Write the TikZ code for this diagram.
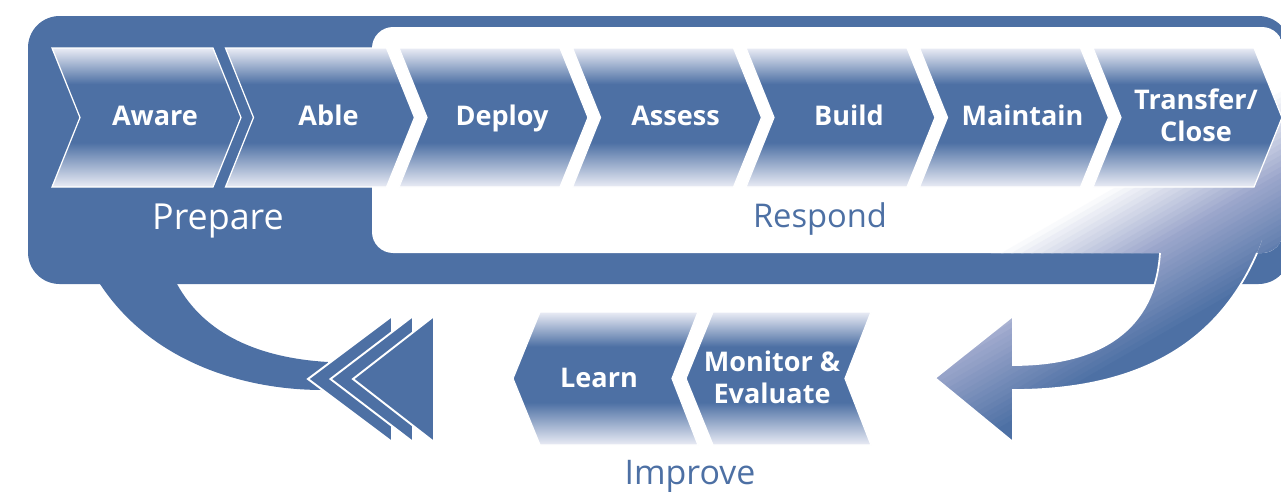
\documentclass[tikz,border=0pt]{standalone}
\usepackage{fontspec}
\setmainfont{Open Sans}
\usepackage{tikz}
\usetikzlibrary{calc}

\definecolor{mainblue}{RGB}{77,112,164}
\definecolor{chevlight}{RGB}{234,236,245}
\definecolor{lavmid}{RGB}{155,166,203}

\pgfdeclareverticalshading{chevshade}{100bp}{color(0bp)=(chevlight); color(25bp)=(chevlight); color(41bp)=(mainblue); color(62bp)=(mainblue); color(75bp)=(chevlight); color(100bp)=(chevlight)}

\tikzset{
    chevron/.style={shade, shading=chevshade, draw=white, line width=0.7pt},
    steptext/.style={text=white, font=\bfseries\fontsize{15.4}{18.2}\selectfont, align=center, inner sep=0pt},
    sectiontext/.style={inner sep=0pt, anchor=base},
    headpart/.style={fill=mainblue, draw=white, line width=1.1pt, line join=miter}
}

% forward step: name, left x, text
\newcommand{\stepfwd}[3]{%
    \path[chevron] (#2,48) -- ++(161,0) -- ++(28,69.5) -- ++(-28,69.5) -- ++(-161,0) -- ++(28,-69.5) -- cycle;
    \node[steptext] (#1) at ({#2+103},119.5) {\strut #3\strut};
}
% backward step: name, tip x, text
\newcommand{\stepback}[3]{%
    \path[chevron] (#2,378.5) -- ++(27,-66.5) -- ++(158,0) -- ++(-26,66.5) -- ++(26,66.5) -- ++(-158,0) -- cycle;
    \node[steptext] (#1) at ({#2+86},381) {\strut #3\strut};
}
% white to blue stripes for the respond panel
\newcommand{\respondshading}{%
    \fill[white] (300,0) rectangle (1300,500);
    \foreach \i in {0,...,31}{
        \pgfmathsetmacro{\sa}{715+5*\i}
        \pgfmathsetmacro{\sb}{\sa+6}
        \pgfmathtruncatemacro{\pa}{min(100,\i*100/15)}
        \pgfmathtruncatemacro{\pb}{max(0,(\i-15)*100/16)}
        \fill[mainblue!\pb!lavmid!\pa!white] ({0.5*\sa+1039},{0.866*\sa-600}) -- ({0.5*\sb+1039},{0.866*\sb-600}) -- ({0.5*\sb},{0.866*\sb}) -- ({0.5*\sa},{0.866*\sa}) -- cycle;
    }
    \fill[mainblue] ({0.5*875+1039},{0.866*875-600}) -- ({0.5*1300+1039},{0.866*1300-600}) -- ({0.5*1300},{0.866*1300}) -- ({0.5*875},{0.866*875}) -- cycle;
}

\begin{document}
\begin{tikzpicture}[x=0.02cm, y=-0.02cm]
        \useasboundingbox (0,0) rectangle (1281,491);
        \clip (0,0) rectangle (1281,491);

        % prepare band
        \fill[mainblue, rounded corners=18pt] (28,16) rectangle (1290,284);

        % arrow back to prepare
        \fill[mainblue] (100,270) -- (100,284) .. controls (150,360) and (240,390) .. (323,390) -- (328,362) .. controls (260,358) and (205,335) .. (177,284) -- (177,270) -- cycle;
        \filldraw[headpart] (308,379) -- (392,316) -- (392,442) -- cycle;
        \filldraw[headpart] (330.5,379) -- (413,316) -- (413,442) -- cycle;
        \filldraw[headpart] (353,379) -- (434,316) -- (434,442) -- cycle;

        % respond panel and arrow to improve
        \begin{scope}
            \clip[rounded corners=12pt] (372,27) rectangle (1283,253);
            \respondshading
        \end{scope}
        \begin{scope}
            \clip (1160,240) -- (1160,253) .. controls (1155,330) and (1100,365) .. (1013,365) -- (1013,316) -- (935,378) -- (1013,442) -- (1013,390) .. controls (1130,390) and (1215,350) .. (1257,253) -- (1262,240) -- cycle;
            \respondshading
        \end{scope}
        \draw[white, line width=1pt] (1160,253) .. controls (1155,330) and (1100,365) .. (1013,365) -- (1013,316) -- (935,378) -- (1013,442) -- (1013,390) .. controls (1130,390) and (1215,350) .. (1257,253);

        % steps
        \stepfwd{aware}{52}{Aware}
        \stepfwd{able}{225.5}{Able}
        \stepfwd{deploy}{399}{Deploy}
        \stepfwd{assess}{572.5}{Assess}
        \stepfwd{build}{746}{Build}
        \stepfwd{maintain}{919.5}{Maintain}
        \stepfwd{transfer}{1093}{Transfer/\\Close}
        \stepback{learn}{513}{Learn}
        \stepback{monitor}{686}{Monitor \&\\Evaluate}

        \node[sectiontext, text=white, font=\fontsize{20.4}{24}\selectfont] (prepare) at (218,229) {Prepare};
        \node[sectiontext, text=mainblue, font=\fontsize{18.6}{22}\selectfont] (respond) at (820,227) {Respond};
        \node[sectiontext, text=mainblue, font=\fontsize{19.3}{22}\selectfont] (improve) at (690,484) {Improve};
\end{tikzpicture}
\end{document}
